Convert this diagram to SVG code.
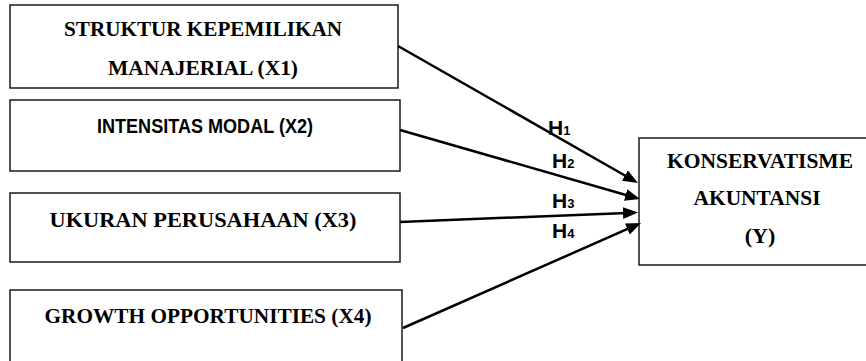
<svg xmlns="http://www.w3.org/2000/svg" width="866" height="361" viewBox="0 0 866 361">
<defs>
<style>
.box{fill:#fff;stroke:#1a1a1a;stroke-width:1.5}
.serif{font-family:"Liberation Serif","Times New Roman",serif;font-weight:bold;font-size:22px;fill:#000;text-anchor:middle}
.sans{font-family:"Liberation Sans",Arial,sans-serif;font-weight:bold;font-size:19.5px;fill:#000;text-anchor:middle}
.h{font-family:"Liberation Sans",Arial,sans-serif;font-weight:bold;font-size:21px;fill:#000}
.hs{font-size:13px}
.conn{stroke:#000;stroke-width:2.5;fill:none;marker-end:url(#ah)}
</style>
<marker id="ah" markerUnits="userSpaceOnUse" markerWidth="16" markerHeight="13" refX="4" refY="6" orient="auto">
<path d="M0,0 L15,6 L0,12 z" fill="#000"/>
</marker>
</defs>
<rect width="866" height="361" fill="#fff"/>
<g id="x1">
<rect class="box" x="10" y="5" width="388" height="83"/>
<text class="serif" x="203" y="36" textLength="278" lengthAdjust="spacingAndGlyphs">STRUKTUR KEPEMILIKAN</text>
<text class="serif" x="203" y="75" textLength="190" lengthAdjust="spacingAndGlyphs">MANAJERIAL (X1)</text>
</g>
<g id="x2">
<rect class="box" x="10" y="100" width="390" height="71"/>
<text class="sans" x="205" y="133" textLength="216" lengthAdjust="spacingAndGlyphs">INTENSITAS MODAL (X2)</text>
</g>
<g id="x3">
<rect class="box" x="10" y="193" width="390" height="69"/>
<text class="serif" x="203" y="227" textLength="307" lengthAdjust="spacingAndGlyphs">UKURAN PERUSAHAAN (X3)</text>
</g>
<g id="x4">
<rect class="box" x="10" y="290" width="392" height="80"/>
<text class="serif" x="208" y="323" textLength="327" lengthAdjust="spacingAndGlyphs">GROWTH OPPORTUNITIES (X4)</text>
</g>
<g id="y">
<rect class="box" x="639" y="138" width="240" height="127"/>
<text class="serif" x="760" y="168" textLength="186" lengthAdjust="spacingAndGlyphs">KONSERVATISME</text>
<text class="serif" x="757" y="205" textLength="127" lengthAdjust="spacingAndGlyphs">AKUNTANSI</text>
<text class="serif" x="760" y="243">(Y)</text>
</g>
<g id="connectors">
<line class="conn" x1="398" y1="46" x2="628.4" y2="177.5"/>
<line class="conn" x1="400" y1="130" x2="629.4" y2="196.0"/>
<line class="conn" x1="400" y1="222" x2="627.0" y2="212.9"/>
<line class="conn" x1="403" y1="328" x2="631.0" y2="227.4"/>
<text class="h" x="548" y="135">H<tspan class="hs">1</tspan></text>
<text class="h" x="552" y="168">H<tspan class="hs">2</tspan></text>
<text class="h" x="552" y="208">H<tspan class="hs">3</tspan></text>
<text class="h" x="552" y="238">H<tspan class="hs">4</tspan></text>
</g>
</svg>
